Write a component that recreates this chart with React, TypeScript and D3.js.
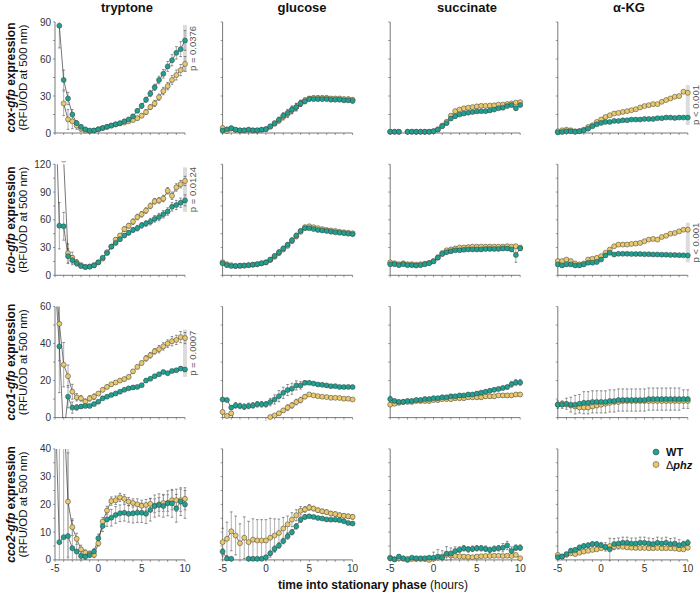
import React from "react";
import * as d3 from "d3";

const TIME = [-5, -4.5, -4, -3.5, -3, -2.5, -2, -1.5, -1, -0.5, 0, 0.5, 1, 1.5, 2, 2.5, 3, 3.5, 4, 4.5, 5, 5.5, 6, 6.5, 7, 7.5, 8, 8.5, 9, 9.5, 10];
const MEDIA = ["tryptone", "glucose", "succinate", "α-KG"];
const GENES = ["cox", "cio", "cco1", "cco2"];
const Y_MAX = [90, 120, 60, 40];
const Y_TICKS = [[0, 30, 60, 90], [0, 30, 60, 90, 120], [0, 20, 40, 60], [0, 10, 20, 30, 40]];
const Y_MINOR = [
  [0, 15, 30, 45, 60, 75, 90],
  [0, 15, 30, 45, 60, 75, 90, 105, 120],
  [0, 10, 20, 30, 40, 50, 60],
  [0, 5, 10, 15, 20, 25, 30, 35, 40],
];
const X_TICKS = [-5, 0, 5, 10];
const X_MINOR = [-5, -4, -3, -2, -1, 0, 1, 2, 3, 4, 5, 6, 7, 8, 9, 10];

// ---- cox ----
const WT_COX_TRY = [null, 87, 43, 28, 15, 8, 5, 3, 2, 2, 3, 4, 5, 6, 7, 8, 9.5, 11, 13.5, 18, 22, 27, 32, 37, 43, 48, 54, 59, 65, 68, 75];
const WT_COX_TRY_ERR = [0, 18, 8, 5, 4, 2, 1.5, 1, 0.5, 0.5, 0.5, 0.5, 0.8, 0.8, 1, 1, 1, 1.2, 1.5, 1.5, 2, 2, 2.5, 2.5, 3, 3.5, 4, 4.5, 5, 6, 8];
const PHZ_COX_TRY = [null, null, 24, 11, 9.5, 6, 3.5, 2, 1.5, 2, 3, 4, 5, 6, 7, 7.8, 8.5, 9.5, 10.5, 12, 14, 17, 21, 24, 29, 34, 38, 43, 47, 51, 56];
const PHZ_COX_TRY_ERR = [0, 0, 10, 8, 6, 3, 2, 1, 0.5, 0.5, 0.5, 0.5, 0.5, 0.8, 0.8, 1, 1, 1, 1.2, 1.5, 1.5, 2, 2, 2.5, 2.5, 3, 3, 3.5, 4, 4.5, 6];

const WT_COX_GLU = [2, 3, 4, 2.7, 2.2, 2.2, 2.7, 2.2, 2.2, 2.7, 3.2, 5.4, 8, 10.8, 14, 16.2, 19, 21, 24, 25.7, 27.5, 27.5, 27.5, 27.5, 27.5, 27, 27, 27, 26.5, 26.5, 26];
const WT_COX_GLU_ERR = [1, 1, 1, 0.5, 0.5, 0.5, 0.5, 0.5, 0.5, 0.5, 0.5, 1, 1.5, 2, 2.5, 3, 3, 3, 2.5, 2, 1.5, 1.5, 1.5, 1.5, 1.5, 1.5, 1.5, 1.5, 1.5, 1.5, 1.5];
const PHZ_COX_GLU = [4, 1.5, 3.5, 2.5, 2, 2, 2.5, 2, 2, 2.5, 3, 5, 7.5, 10, 13, 15.5, 18.5, 21, 24, 26.5, 28, 28.5, 28.5, 28.5, 28.5, 28, 28, 28, 27.5, 27.5, 27];
const PHZ_COX_GLU_ERR = [1.5, 1, 1, 0.5, 0.5, 0.5, 0.5, 0.5, 0.5, 0.5, 0.5, 1, 1.5, 2, 2.5, 3, 3, 3, 2.5, 2, 1.5, 1.5, 1.5, 1.5, 1.5, 1.5, 1.5, 1.5, 1.5, 1.5, 1.5];

const WT_COX_SUC = [1, 1, 1, null, 1, 1, 1, 1, 1, 1, 1.5, 2.7, 5.5, 8, 11.7, 13.6, 15, 15.8, 16.4, 17, 17.5, 17.7, 17.7, 18.3, 19, 20, 20.5, 21.8, 22.7, 20, 22.7];
const WT_COX_SUC_ERR = [0.5, 0.5, 0.5, 0, 0.5, 0.5, 0.5, 0.5, 0.5, 0.5, 0.5, 1, 1.5, 1.5, 1.5, 1.5, 1, 1, 1, 1, 1, 1, 1, 1, 1, 1, 1, 1, 1.5, 1.5, 1.5];
const PHZ_COX_SUC = [1, 1, 1, null, 1, 1, 1, 1, 1, 1, 1.5, 3, 6, 9, 14, 17.7, 19, 20, 20.5, 21, 21.6, 22, 22, 22.2, 22.4, 23, 23, 23.5, 24, 24.6, 25];
const PHZ_COX_SUC_ERR = [0.5, 0.5, 0.5, 0, 0.5, 0.5, 0.5, 0.5, 0.5, 0.5, 0.5, 1, 1.5, 1.5, 1.5, 1.5, 1, 1, 1, 1, 1, 1, 1, 1, 1, 1, 1, 1, 1, 1, 1];

const WT_COX_AKG = [0.5, 0.8, 1.4, 1.4, 1, 1.4, 2.2, 3.5, 5.4, 7, 8.2, 9, 9, 9.8, 9.8, 10.3, 10.3, 10.9, 10.9, 10.9, 11.4, 11.4, 11.4, 12, 12, 12.5, 12.5, 12.2, 12.5, 12.5, 12.5];
const WT_COX_AKG_ERR = [0.5, 0.5, 0.5, 0.5, 0.5, 0.5, 0.5, 0.5, 0.5, 0.5, 0.5, 0.5, 0.5, 0.5, 0.5, 0.5, 0.5, 0.5, 0.5, 0.5, 0.5, 0.5, 0.5, 0.5, 0.5, 0.5, 0.5, 0.5, 0.5, 0.5, 0.5];
const PHZ_COX_AKG = [1.4, 2.2, 2.7, 2.2, 1.4, 1.6, 2.7, 4.9, 6.3, 9, 10.9, 13, 14.4, 15.8, 16.3, 17.1, 17.7, 18.5, 19.3, 20.7, 21.8, 22.6, 23.4, 23.4, 25.3, 26.7, 28, 29.4, 29.9, 33.5, 32.6];
const PHZ_COX_AKG_ERR = [0.5, 0.5, 0.5, 0.5, 0.5, 0.5, 0.5, 0.5, 0.5, 0.5, 0.5, 0.5, 0.5, 0.5, 0.5, 0.5, 0.5, 0.5, 0.5, 0.5, 0.5, 0.5, 0.5, 0.5, 0.5, 0.5, 0.5, 0.5, 0.8, 1, 1];

// ---- cio ----
const WT_CIO_TRY = [200, 53.6, 53, 20.7, 16.4, 13, 10, 9, 9.3, 10.7, 14, 19, 24, 31, 35, 39, 43, 46, 49, 51, 54, 56, 58, 61, 63, 66, 69, 74, 76, 78.5, 81];
const WT_CIO_TRY_ERR = [0, 25, 15, 8, 5, 3, 2, 1.5, 1, 1, 1, 1, 1.5, 1.5, 2, 2, 2, 2.5, 2.5, 3, 3, 3, 3.5, 3.5, 4, 4, 4, 4.5, 5, 5, 6];
const PHZ_CIO_TRY = [null, 250, 125, 24, 19, 14, 11, 9, 9.5, 11, 14, 18, 25, 31, 38.5, 43, 50, 53.6, 58, 63, 66, 70, 75, 80, 81, 83, 91.4, 86, 95, 98.5, 102];
const PHZ_CIO_TRY_ERR = [0, 0, 0, 10, 6, 3, 2, 1.5, 1, 1, 1, 1, 1.5, 2, 2, 2, 2.5, 2.5, 3, 3, 3, 3, 3, 3, 3, 3.5, 3.5, 4, 4, 4, 5];

const WT_CIO_GLU = [13, 11, 10, 10, 10.5, 10.5, 11, 11.5, 12, 13, 14, 17, 21, 25, 29, 33, 38, 43, 48, 51, 51, 50, 49, 48.5, 48, 47, 46.5, 46, 45.5, 45, 44.5];
const WT_CIO_GLU_ERR = [1.5, 1.5, 1.5, 1.5, 1.5, 1.5, 1.5, 1.5, 1.5, 1.5, 1.5, 2, 2, 2.5, 2.5, 2.5, 2.5, 2.5, 2, 2, 1.5, 1.5, 1.5, 1.5, 1.5, 1.5, 1.5, 1.5, 1.5, 1.5, 1.5];
const PHZ_CIO_GLU = [14, 12, 11, 10, 10, 10.5, 11, 11.5, 12, 13, 14, 16.5, 20, 24, 28, 32, 37, 42, 47, 52, 53, 52, 51, 50, 49, 48.5, 48, 47, 46.5, 46, 45.5];
const PHZ_CIO_GLU_ERR = [1.5, 1.5, 1.5, 1.5, 1.5, 1.5, 1.5, 1.5, 1.5, 1.5, 1.5, 2, 2, 2.5, 2.5, 2.5, 2.5, 2.5, 2, 2, 1.5, 1.5, 1.5, 1.5, 1.5, 1.5, 1.5, 1.5, 1.5, 1.5, 1.5];

const WT_CIO_SUC = [12, 12, 11, 12, 11, 11, 10.5, 11, 12, 13, 15, 19, 23, 25, 26, 27, 27, 27.5, 28, 28, 28, 28, 28.5, 28.5, 28.5, 28.5, 29, 29, 28, 22, 29];
const WT_CIO_SUC_ERR = [1.5, 1.5, 1.5, 1.5, 1.5, 1.5, 1.5, 1.5, 1.5, 1.5, 1.5, 2, 2, 2, 2, 1.5, 1.5, 1.5, 1.5, 1.5, 1.5, 1.5, 1.5, 1.5, 1.5, 1.5, 1.5, 1.5, 2, 8, 2];
const PHZ_CIO_SUC = [14, 13, 12, 13, 12, 12, 11.5, 12, 12.5, 13.5, 15.5, 19.5, 24, 27, 28, 29, 30, 30, 30.5, 31, 31, 31, 31, 31, 31, 31, 31, 31.5, 31, 31.5, 30];
const PHZ_CIO_SUC_ERR = [1.5, 1.5, 1.5, 1.5, 1.5, 1.5, 1.5, 1.5, 1.5, 1.5, 1.5, 2, 2, 2, 2, 1.5, 1.5, 1.5, 1.5, 1.5, 1.5, 1.5, 1.5, 1.5, 1.5, 1.5, 1.5, 1.5, 1.5, 1.5, 1.5];

const WT_CIO_AKG = [11.8, 10.7, 11.8, 11.8, 10.7, 10.7, 11.8, 13.6, 13.6, 14.3, 17, 21.4, 24.3, 22.5, 23.2, 23.2, 23.2, 23, 23, 23, 22.8, 22.8, 22.5, 22.5, 22.3, 22.3, 22, 22, 21.8, 21.6, 21.4];
const WT_CIO_AKG_ERR = [1, 1, 1, 1, 1, 1, 1, 1, 1, 1, 1, 1.5, 1.5, 1, 1, 1, 1, 1, 1, 1, 1, 1, 1, 1, 1, 1, 1, 1, 1, 1, 1];
const PHZ_CIO_AKG = [15.4, 15.4, 17, 15.4, 12.8, 11.8, 12.8, 17, 17.9, 18.9, 20.7, 24.3, 27.8, 31.4, 33.2, 33.2, 33.2, 33.9, 34.3, 35, 36.8, 38.6, 39.3, 38.6, 41.4, 42.8, 45, 45.7, 47.5, 49.3, 49.3];
const PHZ_CIO_AKG_ERR = [1, 1, 1, 1, 1, 1, 1, 1, 1, 1, 1, 1, 1, 1, 1, 1, 1, 1, 1, 1, 1, 1, 1, 1, 1, 1, 1, 1, 1.5, 1.5, 1.5];

// ---- cco1 ----
const WT_CCO1_TRY = [75, 38.5, -10, 11.3, 5.4, 5.5, 6, 6.3, 6.3, 7.3, 8.6, 10.4, 11.3, 12.2, 13, 14, 15, 15.8, 16.3, 16.6, 17.5, 20, 21, 22.4, 23.4, 24.7, 24, 25.2, 25.6, 26.5, 26];
const WT_CCO1_TRY_ERR = [0, 25, 0, 6, 3, 1.5, 1, 0.8, 0.8, 0.8, 0.8, 0.8, 0.8, 0.8, 0.8, 0.8, 0.8, 0.8, 0.8, 0.8, 0.8, 0.8, 0.8, 0.8, 0.8, 0.8, 0.8, 0.8, 0.8, 1, 1];
const PHZ_CCO1_TRY = [80, 50.7, 28.6, 22.4, 14, 11, 10.4, 8.6, 10.4, 11.3, 13, 15, 16.6, 18, 19, 20, 20.8, 22, 25, 27.4, 29.5, 32, 33.7, 35.8, 37, 38.5, 40, 41.3, 42, 43.5, 43];
const PHZ_CCO1_TRY_ERR = [0, 20, 12, 6, 4, 2, 1.5, 1.5, 1.5, 1.5, 1, 1, 1, 1, 1, 1, 1, 1, 1, 1, 1, 1.5, 1.5, 1.5, 2, 2, 2, 2.5, 2.5, 3, 3];

const WT_CCO1_GLU = [9.8, 9.5, 5.4, 6.6, 6.3, 5.9, 6.3, 6.6, 7.2, 7.2, 7.2, 8.4, 9.8, 11.6, 13.4, 14.9, 15.6, 17.4, 17.4, 18.8, 18.8, 18.4, 17.9, 17.7, 17.4, 17, 17, 16.6, 16.5, 16.6, 16.5];
const WT_CCO1_GLU_ERR = [0.5, 0.5, 1, 1.5, 1.5, 1.5, 1.5, 1.5, 1.5, 1.5, 1.5, 2, 2.5, 3, 3, 3, 3, 2.5, 2, 1, 0.5, 0.5, 0.5, 0.5, 0.5, 0.5, 0.5, 0.5, 0.5, 0.5, 0.5];
const PHZ_CCO1_GLU = [3, 0.9, 2.3, -4, -4, -4, -4, -4, -4, -4, -3, 0.3, 1.2, 2.3, 3.9, 5.4, 6.6, 8.4, 9.5, 11.3, 12.5, 12, 11.6, 11.3, 11.1, 10.7, 10.7, 10.6, 10.2, 10.2, 9.8];
const PHZ_CCO1_GLU_ERR = [1, 0.5, 1, 0, 0, 0, 0, 0, 0, 0, 0, 0.5, 0.5, 1, 1, 1.5, 1.5, 1.5, 1.5, 1, 0.5, 0.5, 0.5, 0.5, 0.5, 0.5, 0.5, 0.5, 0.5, 0.5, 0.5];

const WT_CCO1_SUC = [10, 9, 8.5, 8.5, 9, 9, 9.5, 9.5, 10, 10, 10.5, 10.5, 11, 11, 11.5, 11.5, 12, 12, 12.5, 12.5, 13, 13.5, 14, 14.5, 15, 15.5, 16, 16.5, 18, 19, 19];
const WT_CCO1_SUC_ERR = [1.5, 1, 1, 1, 1, 1, 1, 1, 1, 1, 1, 1, 1, 1, 1, 1, 1, 1, 1, 1, 1, 1, 1, 1, 1, 1, 1, 1, 1.5, 1.5, 1.5];
const PHZ_CCO1_SUC = [7, 7.5, 8, 8.5, 8.5, 8.5, 9, 9, 9, 9, 9.5, 9.5, 10, 10, 10, 10.5, 10.5, 10.5, 11, 11, 11, 11, 11.5, 11.5, 11.5, 12, 12, 12, 12, 12.5, 12.5];
const PHZ_CCO1_SUC_ERR = [1, 1, 1, 1, 1, 1, 1, 1, 1, 1, 1, 1, 1, 1, 1, 1, 1, 1, 1, 1, 1, 1, 1, 1, 1, 1, 1, 1, 1, 1, 1];

const WT_CCO1_AKG = [7, 7, 7.5, 7, 7, 7.5, 8, 8, 8.5, 8.5, 8.5, 8.5, 9, 9, 9.5, 9.5, 9.5, 9.5, 9.5, 9.5, 9.5, 10, 10, 10, 10, 10, 10, 10, 10, 10, 10];
const WT_CCO1_AKG_ERR = [2, 2, 3, 4, 5, 5, 6, 6, 6, 6, 6, 6, 6, 6, 6, 6, 6, 6, 6, 6, 6, 6, 6, 6, 6, 6, 6, 6, 6, 5, 5];
const PHZ_CCO1_AKG = [7, 7.5, 7, 6.5, 6, 5.5, 5.5, 5.5, 6, 6.5, 7, 7.5, 8, 8.5, 8.5, 9, 9, 9, 9, 9, 9, 9, 9, 9, 9, 9, 9, 9, 9, 9, 9];
const PHZ_CCO1_AKG_ERR = [1, 1, 1, 1, 1, 1, 1, 1, 1, 1, 1, 1, 1, 1, 1, 1, 1, 1, 1, 1, 1, 1, 1, 1, 1, 1, 1, 1, 1, 1, 1];

// ---- cco2 ----
const WT_CCO2_TRY = [60, 6.4, 8.2, 8.6, 4.2, 3, 1.4, 1.2, 1.8, 3, 7.8, 12.2, 14.6, 15.2, 16.2, 16.8, 17, 16.6, 16.8, 17, 17, 16.6, 18, 19.4, 19.8, 19.4, 20.4, 20.4, 18.6, 21, 20];
const WT_CCO2_TRY_ERR = [0, 40, 35, 30, 10, 4, 1.5, 1, 1, 1, 1.5, 2, 2.5, 3, 3, 3, 3, 3, 3.5, 3.5, 3.5, 3.5, 4, 4, 4, 4, 4.5, 5, 5, 5, 5];
const PHZ_CCO2_TRY = [null, null, 55, 21, 11.8, 7.6, 3.8, 2.6, 2.2, 1.8, 6, 13.8, 17.8, 21.2, 21.5, 22.5, 22, 21, 20.5, 20, 19.5, 19.8, 20.2, 19.5, 20, 20.5, 20.5, 21.5, 21.5, 21.5, 22];
const PHZ_CCO2_TRY_ERR = [0, 0, 0, 20, 3, 2, 1.5, 1, 1, 1, 1, 1.5, 1.5, 1.5, 1.5, 1.5, 1.5, 1.5, 1.5, 2, 2, 2, 2, 2.5, 2.5, 3, 3, 3.5, 4, 4, 4];

const WT_CCO2_GLU = [3, 0.5, 0.4, null, null, null, 0.4, 0.4, 0.4, 0.4, 1, 2.4, 4, 5.2, 6.8, 8.5, 10, 12.1, 14.5, 15.5, 15.7, 15.5, 15.1, 14.9, 14.6, 14.5, 14.5, 14.3, 13.9, 13.3, 13.1];
const WT_CCO2_GLU_ERR = [1, 0.5, 0.5, 0, 0, 0, 0.5, 0.5, 0.5, 0.5, 0.5, 0.8, 1, 1, 1, 1, 1, 1, 1, 0.8, 0.5, 0.5, 0.5, 0.5, 0.5, 0.5, 0.5, 0.5, 0.5, 0.5, 0.5];
const PHZ_CCO2_GLU = [6.4, 7.6, 10.3, 8.8, 6, 8, 6.4, 7.3, 7, 7, 7, 8, 8.8, 9.7, 11.3, 12.8, 14.5, 16.1, 17.7, 18.2, 18.9, 18.5, 17.9, 17.5, 17.2, 16.7, 16.5, 16.1, 15.9, 15.7, 15.5];
const PHZ_CCO2_GLU_ERR = [5, 6, 7, 7, 7, 7.5, 7.5, 7.5, 7.5, 7.5, 7.5, 7, 6, 5, 4, 3, 2.5, 2, 1.5, 1, 1, 0.8, 0.8, 0.8, 0.8, 0.8, 0.8, 0.8, 0.8, 0.8, 0.8];

const WT_CCO2_SUC = [0.6, 0.2, 1.2, 0.6, 0, 0.8, 0.6, 0.6, 0.6, 0.8, 0.8, 1.2, 0.8, 2.3, 2.3, 3.2, 3.7, 4.2, 3.8, 4, 4.2, 4.2, 4, 3.6, 4, 4.2, 4.4, 5.2, 3.2, 4.4, 4.4];
const WT_CCO2_SUC_ERR = [0.3, 0.3, 0.5, 0.5, 0.5, 0.5, 0.5, 0.5, 0.5, 0.5, 2, 2.5, 2.5, 2.5, 2, 1.5, 1, 1, 1, 1, 1, 1, 1, 1, 1, 1, 1.5, 1.5, 1.5, 1, 1];
const PHZ_CCO2_SUC = [0.8, 0.2, 0.6, 0.4, 0.4, 0.3, 0.3, 0.3, 0.3, 0, 0.4, 0.8, 1.2, 1.8, 1.6, 1.4, 1.3, 1.2, 1.1, 1, 1.2, 1.3, 1.4, 1.4, 1.5, 1.5, 1.4, 1.5, 1.4, 1.8, 0.6];
const PHZ_CCO2_SUC_ERR = [0.3, 0.3, 0.3, 0.3, 0.3, 0.3, 0.3, 0.3, 0.3, 0.3, 0.5, 0.5, 0.5, 0.5, 0.5, 0.5, 0.5, 0.5, 0.5, 0.5, 0.5, 0.5, 0.5, 0.5, 0.5, 0.5, 0.5, 0.5, 0.5, 0.5, 0.5];

const WT_CCO2_AKG = [1, 1.2, 2.1, 3.3, 3.6, 4.5, 5, 5.3, 5.7, 5.7, 5.3, 4.7, 3.8, 5.7, 5.9, 6.2, 6.2, 5.9, 5.9, 6.2, 6.2, 5.9, 5.7, 6.2, 5.9, 6.2, 5.7, 5.9, 5.3, 5.7, 6.2];
const WT_CCO2_AKG_ERR = [0.5, 0.5, 0.5, 0.8, 0.8, 0.8, 0.8, 0.8, 0.8, 0.8, 1, 1.5, 4, 2, 2, 2, 2, 2, 2, 2, 2, 2, 2, 2, 2, 2, 2, 2, 2, 1, 1];
const PHZ_CCO2_AKG = [1.8, 1.2, 1.8, 2.4, 2.1, 2.6, 3, 3.3, 3.6, 3.8, 4.2, 4.5, 5, 4.7, 5, 4.7, 4.5, 4.4, 4.3, 4.3, 4.3, 4.2, 4.2, 4.3, 4.2, 4.2, 4.2, 4.1, 3.9, 3.8, 4.4];
const PHZ_CCO2_AKG_ERR = [0.5, 0.5, 0.5, 0.5, 0.5, 0.5, 0.5, 0.5, 0.5, 0.5, 0.5, 0.5, 0.5, 0.5, 0.5, 0.5, 0.5, 0.5, 0.5, 0.5, 0.5, 0.5, 0.5, 0.5, 0.5, 0.5, 0.5, 0.5, 0.5, 0.5, 0.5];

const WT_GRID = [
  [WT_COX_TRY, WT_COX_GLU, WT_COX_SUC, WT_COX_AKG],
  [WT_CIO_TRY, WT_CIO_GLU, WT_CIO_SUC, WT_CIO_AKG],
  [WT_CCO1_TRY, WT_CCO1_GLU, WT_CCO1_SUC, WT_CCO1_AKG],
  [WT_CCO2_TRY, WT_CCO2_GLU, WT_CCO2_SUC, WT_CCO2_AKG],
];
const WT_ERR_GRID = [
  [WT_COX_TRY_ERR, WT_COX_GLU_ERR, WT_COX_SUC_ERR, WT_COX_AKG_ERR],
  [WT_CIO_TRY_ERR, WT_CIO_GLU_ERR, WT_CIO_SUC_ERR, WT_CIO_AKG_ERR],
  [WT_CCO1_TRY_ERR, WT_CCO1_GLU_ERR, WT_CCO1_SUC_ERR, WT_CCO1_AKG_ERR],
  [WT_CCO2_TRY_ERR, WT_CCO2_GLU_ERR, WT_CCO2_SUC_ERR, WT_CCO2_AKG_ERR],
];
const PHZ_GRID = [
  [PHZ_COX_TRY, PHZ_COX_GLU, PHZ_COX_SUC, PHZ_COX_AKG],
  [PHZ_CIO_TRY, PHZ_CIO_GLU, PHZ_CIO_SUC, PHZ_CIO_AKG],
  [PHZ_CCO1_TRY, PHZ_CCO1_GLU, PHZ_CCO1_SUC, PHZ_CCO1_AKG],
  [PHZ_CCO2_TRY, PHZ_CCO2_GLU, PHZ_CCO2_SUC, PHZ_CCO2_AKG],
];
const PHZ_ERR_GRID = [
  [PHZ_COX_TRY_ERR, PHZ_COX_GLU_ERR, PHZ_COX_SUC_ERR, PHZ_COX_AKG_ERR],
  [PHZ_CIO_TRY_ERR, PHZ_CIO_GLU_ERR, PHZ_CIO_SUC_ERR, PHZ_CIO_AKG_ERR],
  [PHZ_CCO1_TRY_ERR, PHZ_CCO1_GLU_ERR, PHZ_CCO1_SUC_ERR, PHZ_CCO1_AKG_ERR],
  [PHZ_CCO2_TRY_ERR, PHZ_CCO2_GLU_ERR, PHZ_CCO2_SUC_ERR, PHZ_CCO2_AKG_ERR],
];

const P_VALUES = [
  { row: 0, col: 0, label: "p = 0.0376", lo: 49.5, hi: 87.6 },
  { row: 1, col: 0, label: "p = 0.0124", lo: 68.5, hi: 116.7 },
  { row: 2, col: 0, label: "p = 0.0007", lo: 22, hi: 47.6 },
  { row: 0, col: 3, label: "p < 0.001", lo: 6.5, hi: 38.9 },
  { row: 1, col: 3, label: "p < 0.001", lo: 13.9, hi: 56.8 },
];

const WT_COLOR = "#1fa191";
const PHZ_COLOR = "#eac96c";
const FONT = "'Liberation Sans', Arial, Helvetica, sans-serif";

const COL_X0 = 55;
const COL_STEP = 167.6;
const PW = 130;
const ROW_Y0 = 22;
const ROW_STEP = 142.3;
const PH = 111;
const TITLE_X = [127, 302, 467, 629];

type Scale = d3.ScaleLinear<number, number>;

function ErrorBars({ vals, errs, x, y }: { vals: (number | null)[]; errs: number[]; x: Scale; y: Scale }) {
  return (
    <g>
      {vals.map((v, i) => {
        if (v == null || !errs[i]) return null;
        const cx = x(TIME[i]);
        const y1 = y(v - errs[i]);
        const y2 = y(v + errs[i]);
        return (
          <g key={i}>
            <line x1={cx} x2={cx} y1={y1} y2={y2} stroke="#9a9a9a" strokeWidth={0.8} />
            <line x1={cx - 1.3} x2={cx + 1.3} y1={y2} y2={y2} stroke="#444" strokeWidth={0.6} />
            <line x1={cx - 1.3} x2={cx + 1.3} y1={y1} y2={y1} stroke="#444" strokeWidth={0.6} />
          </g>
        );
      })}
    </g>
  );
}

function SeriesLine({ vals, x, y }: { vals: (number | null)[]; x: Scale; y: Scale }) {
  const line = d3
    .line<number | null>()
    .defined((v) => v != null)
    .x((_, i) => x(TIME[i]))
    .y((v) => y(v as number));
  return <path d={line(vals) || ""} fill="none" stroke="#1a1a1a" strokeWidth={0.6} />;
}

function Markers({ vals, x, y, color }: { vals: (number | null)[]; x: Scale; y: Scale; color: string }) {
  return (
    <g>
      {vals.map((v, i) =>
        v == null ? null : (
          <circle key={i} cx={x(TIME[i])} cy={y(v)} r={2.5} fill={color} stroke="#3a3a3a" strokeWidth={0.5} />
        )
      )}
    </g>
  );
}

function Panel({ row, col }: { row: number; col: number }) {
  const x0 = COL_X0 + col * COL_STEP;
  const y0 = ROW_Y0 + row * ROW_STEP;
  const x = d3.scaleLinear().domain([-5, 10]).range([x0, x0 + PW]);
  const y = d3.scaleLinear().domain([0, Y_MAX[row]]).range([y0 + PH, y0]);
  const wt = WT_GRID[row][col];
  const phz = PHZ_GRID[row][col];
  const lineClip = `lc-${row}-${col}`;
  const markClip = `mc-${row}-${col}`;
  const pv = P_VALUES.filter((p) => p.row === row && p.col === col);
  return (
    <g>
      <defs>
        <clipPath id={lineClip}>
          <rect x={x0 - 4} y={y0} width={PW + 8} height={PH + 0.5} />
        </clipPath>
        <clipPath id={markClip}>
          <rect x={x0 - 4} y={y0 - 3} width={PW + 8} height={PH + 6} />
        </clipPath>
      </defs>
      {pv.map((p, i) => (
        <rect key={i} x={x(10) - 2} y={y(p.hi)} width={4} height={y(p.lo) - y(p.hi)} fill="#dcdcdc" />
      ))}
      {/* axes */}
      <line x1={x0} x2={x0} y1={y0} y2={y0 + PH} stroke="#555" strokeWidth={0.8} />
      <line x1={x0} x2={x0 + PW} y1={y0 + PH} y2={y0 + PH} stroke="#555" strokeWidth={0.8} />
      {Y_MINOR[row].map((t) => (
        <line key={"ym" + t} x1={x0 - 2} x2={x0} y1={y(t)} y2={y(t)} stroke="#555" strokeWidth={0.6} />
      ))}
      {X_MINOR.map((t) => (
        <line key={"xm" + t} x1={x(t)} x2={x(t)} y1={y0 + PH} y2={y0 + PH + 2} stroke="#555" strokeWidth={0.6} />
      ))}
      {col === 0 &&
        Y_TICKS[row].map((t) => (
          <text key={"yl" + t} x={x0 - 4} y={y(t) + 3.5} fontSize={10} textAnchor="end" fill="#333" fontFamily={FONT}>
            {t}
          </text>
        ))}
      {row === 3 &&
        X_TICKS.map((t) => (
          <text key={"xl" + t} x={x(t)} y={y0 + PH + 12} fontSize={10} textAnchor="middle" fill="#333" fontFamily={FONT}>
            {t}
          </text>
        ))}
      <g clipPath={`url(#${lineClip})`}>
        <ErrorBars vals={phz} errs={PHZ_ERR_GRID[row][col]} x={x} y={y} />
        <ErrorBars vals={wt} errs={WT_ERR_GRID[row][col]} x={x} y={y} />
        <SeriesLine vals={phz} x={x} y={y} />
        <SeriesLine vals={wt} x={x} y={y} />
      </g>
      <g clipPath={`url(#${markClip})`}>
        <Markers vals={phz} x={x} y={y} color={PHZ_COLOR} />
        <Markers vals={wt} x={x} y={y} color={WT_COLOR} />
      </g>
      {pv.map((p, i) => {
        const cy = (y(p.lo) + y(p.hi)) / 2;
        return (
          <text
            key={"pt" + i}
            transform={`translate(${x(10) + 11},${cy}) rotate(-90)`}
            fontSize={9.5}
            textAnchor="middle"
            fill="#555"
            fontFamily={FONT}
          >
            {p.label}
          </text>
        );
      })}
    </g>
  );
}

export default function App() {
  const rows = [0, 1, 2, 3];
  const cols = [0, 1, 2, 3];
  return (
    <svg width={700} height={595} style={{ position: "absolute", left: 0, top: 0, background: "#fff" }} fontFamily={FONT}>
      <rect x={0} y={0} width={700} height={595} fill="#fff" />
      {MEDIA.map((m, c) => (
        <text key={m} x={TITLE_X[c]} y={12} fontSize={13} fontWeight="bold" textAnchor="middle" fill="#111">
          {m}
        </text>
      ))}
      {GENES.map((g, r) => {
        const cy = ROW_Y0 + r * ROW_STEP + PH / 2;
        return (
          <g key={g}>
            <text transform={`translate(15,${cy}) rotate(-90)`} fontSize={12} fontWeight="bold" textAnchor="middle" fill="#111">
              <tspan fontStyle="italic">{g}-gfp</tspan>
              <tspan> expression</tspan>
            </text>
            <text transform={`translate(27,${cy}) rotate(-90)`} fontSize={11.5} textAnchor="middle" fill="#111">
              (RFU/OD at 500 nm)
            </text>
          </g>
        );
      })}
      {rows.map((r) => cols.map((c) => <Panel key={`${r}-${c}`} row={r} col={c} />))}
      <text x={373} y={589} fontSize={12} textAnchor="middle" fill="#111">
        <tspan fontWeight="bold">time into stationary phase</tspan>
        <tspan> (hours)</tspan>
      </text>
      {/* legend */}
      <circle cx={656} cy={452} r={3} fill={WT_COLOR} stroke="#3a3a3a" strokeWidth={0.5} />
      <text x={666} y={456} fontSize={11} fontWeight="bold" fill="#111">WT</text>
      <circle cx={656} cy={464.5} r={3} fill={PHZ_COLOR} stroke="#3a3a3a" strokeWidth={0.5} />
      <text x={666} y={468.5} fontSize={11} fill="#111">
        <tspan>Δ</tspan>
        <tspan fontWeight="bold" fontStyle="italic">phz</tspan>
      </text>
    </svg>
  );
}
